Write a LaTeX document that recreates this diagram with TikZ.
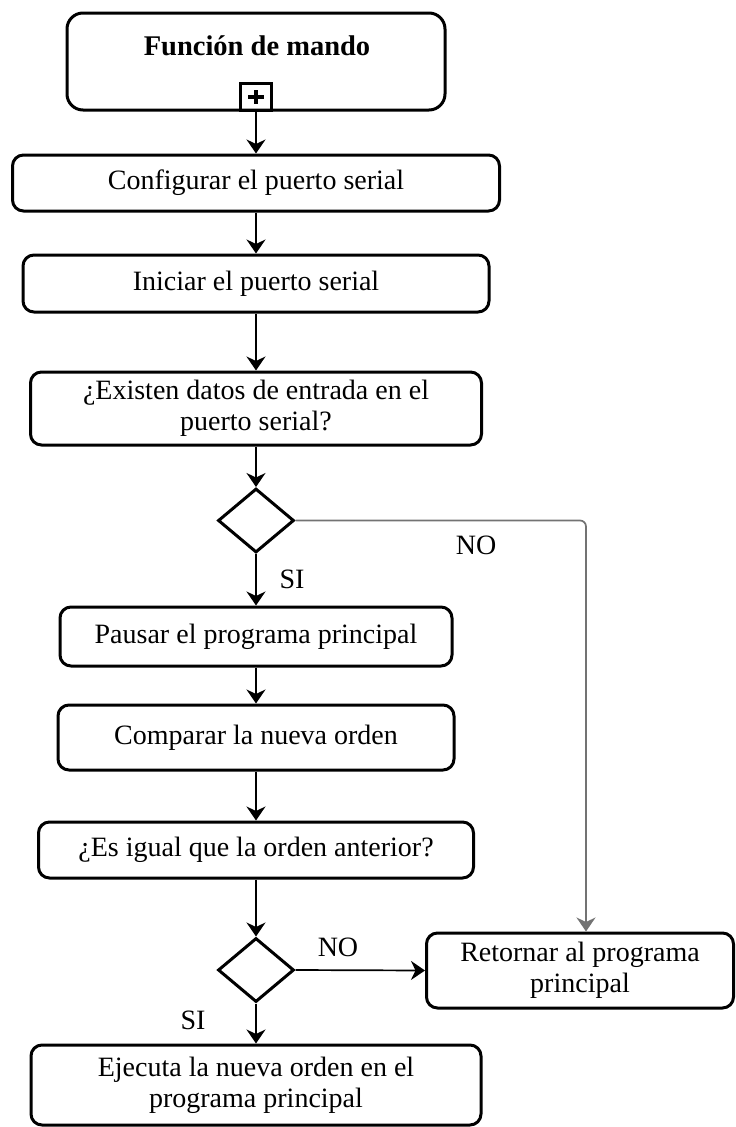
\documentclass[tikz,border=0pt]{standalone}
\usepackage{fontspec}
\setmainfont{Liberation Serif}
\usetikzlibrary{shapes.geometric,arrows.meta}
\begin{document}
\begin{tikzpicture}[x=1pt,y=-1pt,
  box/.style={draw, line width=3pt, rounded corners=11pt, inner sep=0pt, align=center,
    font=\fontsize{28}{31}\selectfont},
  dec/.style={draw, shape=diamond, line width=3pt, inner sep=0pt, minimum width=76pt, minimum height=64pt},
  arr/.style={line width=1.7pt, -{Stealth[length=14pt,width=19pt,inset=4.5pt]}},
  noarr/.style={line width=1.7pt, draw=black!55, rounded corners=6pt, -{Stealth[length=14pt,width=19pt,inset=4.5pt]}},
  lbl/.style={inner sep=0pt, font=\fontsize{28}{31}\selectfont}
]
\useasboundingbox (0,0) rectangle (736,1127);
% top box
\node[box, rounded corners=16pt, minimum width=378pt, minimum height=97pt] (top) at (256,61.5) {};
\node[lbl, font=\fontsize{28.5}{31}\selectfont\bfseries] (title) at (257,46) {Función de mando};
\node[draw, line width=2.6pt, minimum width=31pt, minimum height=27pt, inner sep=0pt, anchor=south] (plus) at (top.south) {};
\draw[line width=3.6pt] ([xshift=-8pt]plus.center) -- ([xshift=8pt]plus.center)
  ([yshift=-7pt]plus.center) -- ([yshift=7pt]plus.center);
% boxes
\node[box, minimum width=487pt, minimum height=56pt] (conf) at (256,183) {Configurar el puerto serial};
\node[box, minimum width=466pt, minimum height=57pt] (ini) at (256,283.5) {Iniciar el puerto serial};
\node[box, minimum width=451pt, minimum height=73pt] (exist) at (256,408.5) {¿Existen datos de entrada en el\\puerto serial?};
\node[dec] (d1) at (256,520.5) {};
\node[box, minimum width=392pt, minimum height=59pt] (paus) at (256,636.5) {Pausar el programa principal};
\node[box, minimum width=396pt, minimum height=65pt] (comp) at (256,737.5) {Comparar la nueva orden};
\node[box, minimum width=435pt, minimum height=56pt] (igual) at (256,850) {¿Es igual que la orden anterior?};
\node[dec] (d2) at (256,970) {};
\node[box, minimum width=307pt, minimum height=75pt] (ret) at (580,970.5) {Retornar al programa\\principal};
\node[box, minimum width=450pt, minimum height=80pt] (ejec) at (256,1085) {Ejecuta la nueva orden en el\\programa principal};
% labels
\node[lbl] (no1) at (476,545) {NO};
\node[lbl] (si1) at (292,579) {SI};
\node[lbl] (no2) at (338,947) {NO};
\node[lbl] (si2) at (193,1020) {SI};
% connectors
\coordinate (retin) at ([xshift=6pt]ret.north);
\draw[arr] (plus.south) -- (conf.north);
\draw[arr] (conf) -- (ini);
\draw[arr] (ini) -- (exist);
\draw[arr] (exist) -- (d1);
\draw[arr] (d1) -- (paus);
\draw[arr] (paus) -- (comp);
\draw[arr] (comp) -- (igual);
\draw[arr] (igual) -- (d2);
\draw[arr] (d2) -- (ejec);
\draw[arr] (d2.east) -- (ret.west);
\draw[noarr] (d1.east) -| (retin);
\end{tikzpicture}
\end{document}
